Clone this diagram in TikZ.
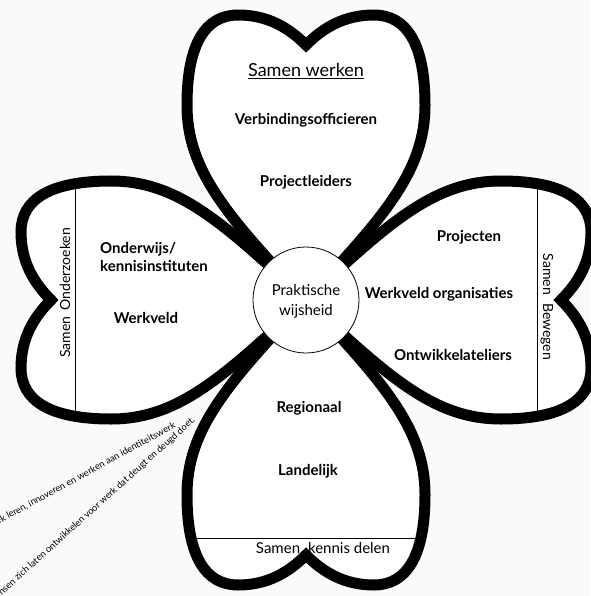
\documentclass[tikz,border=0pt]{standalone}
\usepackage{fontspec}
\setmainfont{Lato}
\usepackage{tikz}
\definecolor{clover_bg}{RGB}{250,250,250}
\tikzstyle{leaf}=[line width=11pt]
\tikzstyle{bold}=[font=\fontsize{15}{18}\selectfont\bfseries,inner sep=0pt]
\tikzstyle{side}=[font=\fontsize{15}{20}\selectfont,inner sep=0pt]
\tikzstyle{turned}=[font=\fontsize{14}{16}\selectfont,inner sep=0pt]
\tikzstyle{note}=[font=\fontsize{9.3}{11}\selectfont,inner sep=0pt]
\newcommand{\leafpath}{(0,0)
  .. controls (80,-85) and (119,-130) .. (119,-195)
  .. controls (119,-257) and (100,-285) .. (68,-285)
  .. controls (38,-285) and (17,-272) .. (0,-255)
  .. controls (-17,-272) and (-38,-285) .. (-68,-285)
  .. controls (-100,-285) and (-119,-257) .. (-119,-195)
  .. controls (-119,-130) and (-80,-85) .. (0,0) -- cycle}

\begin{document}
\begin{tikzpicture}[x=1pt,y=-1pt]
    \fill[clover_bg] (0,0) rectangle (590,596);
    \useasboundingbox (0,0) rectangle (590,596);
    \foreach \a in {0,90,180,270}
      \fill[white,shift={(306,300)},rotate=\a] \leafpath;
    \begin{scope}
      \clip[shift={(306,300)},rotate=90] \leafpath;
      \draw[line width=0.8pt] (75,100) -- (75,500);
    \end{scope}
    \begin{scope}
      \clip[shift={(306,300)},rotate=-90] \leafpath;
      \draw[line width=0.8pt] (537,100) -- (537,500);
    \end{scope}
    \begin{scope}
      \clip[shift={(306,300)},rotate=180] \leafpath;
      \draw[line width=0.8pt] (150,538) -- (470,538);
    \end{scope}
    \foreach \a in {0,90,180,270}
      \draw[leaf,shift={(306,300)},rotate=\a] \leafpath;
    \node [circle,draw,fill=white,line width=0.8pt,minimum size=106pt] (hub) at (306,300) {};
    \node [side,align=center] (wisdom) at (306,301) {Praktische\\wijsheid};
    \node [side,font=\fontsize{18}{20}\selectfont] (work) at (306,71) {\underline{Samen werken}};
    \node [bold] (liaison) at (306,120) {Verbindingsofficieren};
    \node [bold] (leaders) at (306,182) {Projectleiders};
    \node [bold,align=left,anchor=west] (schools) at (100,257) {Onderwijs/\\kennisinstituten};
    \node [bold] (field) at (146,318) {Werkveld};
    \node [bold] (projects) at (469,237) {Projecten};
    \node [bold] (orgs) at (439,294) {Werkveld organisaties};
    \node [bold] (ateliers) at (453,355) {Ontwikkelateliers};
    \node [bold] (region) at (309,408) {Regionaal};
    \node [bold] (country) at (308,471) {Landelijk};
    \node [side] (share) at (323,548) {Samen\hspace{8pt}kennis delen};
    \node [turned,rotate=90] (research) at (65,293) {Samen\hspace{6pt}Onderzoeken};
    \node [turned,rotate=-90] (move) at (547,307) {Samen\hspace{8pt}Bewegen};
    \node [note,anchor=east,rotate=28.6] (note1) at (175,425) {ek leren, innoveren en werken aan identiteitswerk};
    \node [note,anchor=east,rotate=42] (note2) at (194,419) {nsen zich laten ontwikkelen voor werk dat deugt en deugd doet.};
\end{tikzpicture}
\end{document}
